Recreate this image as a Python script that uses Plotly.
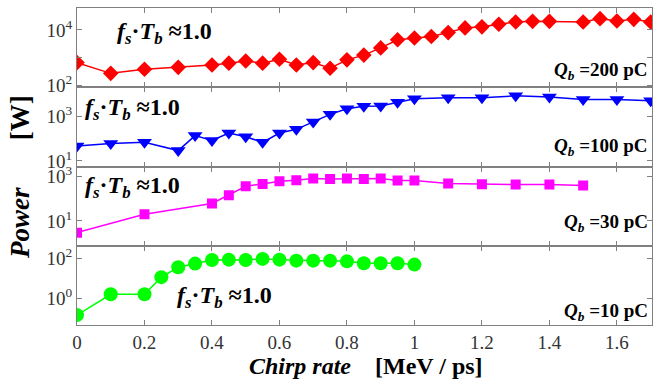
import plotly.graph_objects as go
from plotly.subplots import make_subplots

# ---- data ----
x200 = [0, 0.1, 0.2, 0.3, 0.4, 0.45, 0.5, 0.55, 0.6, 0.65, 0.7, 0.75, 0.8, 0.85, 0.9, 0.95,
        1.0, 1.05, 1.1, 1.15, 1.2, 1.25, 1.3, 1.35, 1.4, 1.5, 1.55, 1.6, 1.65, 1.7]
p200 = [660, 270, 380, 445, 540, 630, 750, 630, 870, 540, 660, 415, 830, 1230, 2240, 4400,
        5100, 5800, 8000, 11800, 12900, 15900, 19300, 20300, 20300, 19300, 25500, 21000, 24000, 19300]

x100 = [0, 0.1, 0.2, 0.3, 0.35, 0.4, 0.45, 0.5, 0.55, 0.6, 0.65, 0.7, 0.75, 0.8, 0.85, 0.9,
        0.95, 1.0, 1.1, 1.2, 1.3, 1.4, 1.5, 1.6, 1.7]
p100 = [46, 61, 68, 29, 136, 82, 178, 122, 68, 178, 260, 560, 1220, 2160, 2820, 2920,
        4300, 6100, 6800, 6800, 8200, 7300, 5600, 5600, 5000]

x30 = [0, 0.2, 0.4, 0.45, 0.5, 0.55, 0.6, 0.65, 0.7, 0.75, 0.8, 0.85, 0.9, 0.95, 1.0,
       1.1, 1.2, 1.3, 1.4, 1.5]
p30 = [3.0, 20, 61, 143, 360, 455, 600, 664, 790, 760, 790, 760, 790, 644, 644,
       474, 440, 428, 428, 386]

x10 = [0, 0.1, 0.2, 0.25, 0.3, 0.35, 0.4, 0.45, 0.5, 0.55, 0.6, 0.65, 0.7, 0.75, 0.8,
       0.85, 0.9, 0.95, 1.0]
p10 = [0.141, 1.58, 1.58, 11.6, 36.7, 56, 86, 89, 86, 97, 89, 79, 79, 79, 73,
       58, 58, 58, 50]

x_ticks = [0, 0.2, 0.4, 0.6, 0.8, 1.0, 1.2, 1.4, 1.6]
x_ticktext = ["0", "0.2", "0.4", "0.6", "0.8", "1", "1.2", "1.4", "1.6"]
charges = ["200", "100", "30", "10"]

SERIF = "Liberation Serif"
AX = "#808080"

fig = make_subplots(rows=4, cols=1, shared_xaxes=True, vertical_spacing=0)

series = [
    (x200, p200, "#ff0000", "diamond", 12),
    (x100, p100, "#0000ff", "triangle-down", 13),
    (x30, p30, "#ff00ff", "square", 10),
    (x10, p10, "#00ff00", "circle", 14),
]
for i, (xs, ys, c, sym, sz) in enumerate(series):
    fig.add_trace(go.Scatter(x=xs, y=ys, mode="lines+markers",
                             line=dict(color=c, width=1.5),
                             marker=dict(color=c, symbol=sym, size=sz),
                             showlegend=False), row=i + 1, col=1)

domains = [[0.75, 1.0], [0.5, 0.75], [0.25, 0.5], [0.0, 0.25]]
yranges = [[1.93, 4.79], [0.75, 4.3], [-0.11, 3.44], [-1.35, 2.65]]
ytv = [[100, 1000, 10000], [10, 1000], [10, 1000], [1, 100]]
ytt = [["10<sup>2</sup>", "", "10<sup>4</sup>"], ["10<sup>1</sup>", "10<sup>3</sup>"],
       ["10<sup>1</sup>", "10<sup>3</sup>"], ["10<sup>0</sup>", "10<sup>2</sup>"]]

for i in range(4):
    yname = "yaxis" if i == 0 else f"yaxis{i+1}"
    xname = "xaxis" if i == 0 else f"xaxis{i+1}"
    fig.layout[yname].update(type="log", range=yranges[i], domain=domains[i],
                             tickvals=ytv[i], ticktext=ytt[i],
                             ticks="inside", ticklen=5, tickcolor=AX,
                             showline=True, linecolor=AX, linewidth=1, mirror="ticks",
                             showgrid=False, zeroline=False,
                             tickfont=dict(family=SERIF, size=19, color="#333"))
    fig.layout[xname].update(range=[0, 1.704], tickvals=x_ticks, ticktext=x_ticktext,
                             ticks="inside", ticklen=5, tickcolor=AX,
                             showline=True, linecolor=AX, linewidth=1, mirror="ticks",
                             showgrid=False, zeroline=False,
                             showticklabels=(i == 3),
                             tickfont=dict(family=SERIF, size=19, color="#333"))

fs = "<b><i>f</i><sub><i>s</i></sub>·<i>T</i><sub><i>b</i></sub> ≈1.0</b>"
fpos = [(0.066, 0.922), (0.01, 0.681), (0.01, 0.434), (0.17, 0.0875)]
for (px, py) in fpos:
    fig.add_annotation(text=fs, x=px, y=py, xref="paper", yref="paper",
                       xanchor="left", yanchor="middle", showarrow=False,
                       font=dict(family=SERIF, size=24, color="black"))

qy = [0.8, 0.5625, 0.322, 0.04]
for q, py in zip(charges, qy):
    fig.add_annotation(text=f"<b><i>Q</i><sub><i>b</i></sub> ={q} pC</b>",
                       x=0.997, y=py, xref="paper", yref="paper",
                       xanchor="right", yanchor="middle", showarrow=False,
                       font=dict(family=SERIF, size=19, color="black"))

fig.add_annotation(text="<b><i>Power</i>&nbsp;&nbsp;&nbsp;&nbsp;&nbsp;&nbsp;&nbsp;[W]</b>", x=-0.099, y=0.467,
                   xref="paper", yref="paper", textangle=-90, showarrow=False,
                   xanchor="center", yanchor="middle",
                   font=dict(family=SERIF, size=27, color="black"))
fig.add_annotation(text="<b><i>Chirp rate</i>&nbsp;&nbsp;&nbsp;&nbsp;[MeV / ps]</b>", x=0.503, y=-0.128,
                   xref="paper", yref="paper", showarrow=False,
                   xanchor="center", yanchor="middle",
                   font=dict(family=SERIF, size=24, color="black"))

fig.update_layout(width=668, height=380, margin=dict(l=77, r=16, t=5, b=55),
                  paper_bgcolor="white", plot_bgcolor="white")

fig.write_html("out.html")
